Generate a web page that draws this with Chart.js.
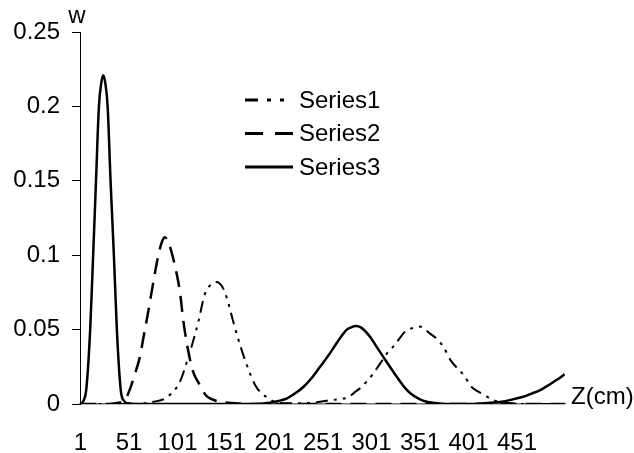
<!DOCTYPE html>
<html>
<head>
<meta charset="utf-8">
<script src="https://cdn.jsdelivr.net/npm/chart.js@4/dist/chart.umd.min.js"></script>
<style>
  html, body { margin: 0; padding: 0; background: #fff; }
  #wrap { width: 634px; height: 453px; position: relative; }
</style>
</head>
<body>
<div id="wrap"><canvas id="chart"></canvas></div>
<script>
// values (z in cm, w)
const seriesNames = ["Series1", "Series2", "Series3"];

const z1 = [1, 60, 76, 86, 93, 100, 105, 110, 116, 122.5, 129, 135, 141, 147, 152, 158.5, 165.5, 172.5, 181, 188, 195, 201, 215, 240, 255, 270, 277, 283, 289, 296, 303, 310, 317, 325, 335.5, 343, 351, 361, 368, 375, 383, 396, 404, 412, 420, 427, 433.5, 445, 460, 500];
const w1 = [0, 0, 0.0015, 0.003, 0.006, 0.011, 0.0173, 0.027, 0.0397, 0.0553, 0.0735, 0.08, 0.082, 0.079, 0.071, 0.0553, 0.0397, 0.0262, 0.0128, 0.007, 0.0038, 0.0015, 0.0005, 0.0008, 0.0022, 0.0035, 0.0045, 0.0075, 0.0105, 0.015, 0.0206, 0.0273, 0.034, 0.0397, 0.0486, 0.051, 0.052, 0.0475, 0.044, 0.0385, 0.029, 0.0195, 0.0116, 0.008, 0.0049, 0.0025, 0.0015, 0.0005, 0, 0];

const z2 = [1, 30, 40, 47, 52, 57, 62, 66, 70, 74, 78, 82, 85, 88, 92, 96.5, 100, 103.5, 107, 112, 117, 124, 130, 134.5, 145, 160, 180, 500];
const w2 = [0, 0, 0.0008, 0.003, 0.01, 0.02, 0.031, 0.045, 0.059, 0.074, 0.089, 0.102, 0.109, 0.112, 0.108, 0.098, 0.088, 0.0755, 0.056, 0.036, 0.022, 0.0128, 0.006, 0.0038, 0.0015, 0.0005, 0, 0];

const z3 = [1, 4, 7, 11, 14, 17, 20, 22.5, 24.5, 26.5, 29, 32, 35.5, 38.5, 42.5, 46, 50, 60, 100, 150, 180, 196, 205, 214, 222, 231, 240, 248, 257, 265, 275, 280, 285, 290, 299.5, 306, 313, 320, 327, 334, 341, 350, 358, 370, 390, 410, 423, 435, 446, 457.5, 466, 475, 482, 489, 495, 500];
const w3 = [0, 0.002, 0.01, 0.05, 0.099, 0.15, 0.2, 0.216, 0.221, 0.216, 0.2, 0.15, 0.099, 0.05, 0.0094, 0.002, 0.0005, 0, 0, 0, 0, 0.0008, 0.002, 0.0038, 0.007, 0.0116, 0.018, 0.025, 0.033, 0.0408, 0.0497, 0.0515, 0.0524, 0.0515, 0.0452, 0.0387, 0.0318, 0.025, 0.0183, 0.012, 0.0072, 0.0035, 0.0015, 0.0004, 0, 0.0002, 0.0008, 0.0015, 0.003, 0.0049, 0.007, 0.0094, 0.012, 0.015, 0.0175, 0.02];

const xTickValues = [1, 51, 101, 151, 201, 251, 301, 351, 401, 451];
const yTickValues = [0, 0.05, 0.1, 0.15, 0.2, 0.25];
const yTickLabels = ["0", "0.05", "0.1", "0.15", "0.2", "0.25"];

const FONT = "'Liberation Sans', Arial, sans-serif";
const FONT_SIZE = 24;
const dashes = [[12, 6, 3, 6, 3, 6], [16, 9], []];
const legendDashes = [[13, 9, 4, 9, 4, 9], [18, 12], []];
const widths = [2, 2.5, 2.5];

const toPoints = (zs, ws) => zs.map((z, i) => ({ x: z, y: ws[i] }));

const overlay = {
  id: "overlay",
  afterDraw(chart) {
    const { ctx, chartArea } = chart;
    ctx.save();
    ctx.fillStyle = "#000";
    ctx.font = FONT_SIZE + "px " + FONT;
    ctx.textBaseline = "middle";
    ctx.textAlign = "center";
    ctx.fillText("w", chartArea.left - 3, chartArea.top - 16);
    ctx.textAlign = "left";
    ctx.fillText("Z(cm)", chartArea.right + 6, chartArea.bottom - 7);

    // legend
    chart.data.datasets.forEach((ds, i) => {
      const y = 100 + i * 33.5;
      ctx.beginPath();
      ctx.setLineDash(legendDashes[i]);
      ctx.lineWidth = 3;
      ctx.strokeStyle = "#000";
      ctx.moveTo(245, y);
      ctx.lineTo(293, y);
      ctx.stroke();
      ctx.setLineDash([]);
      ctx.fillText(ds.label, 299, y + 1);
    });
    ctx.restore();
  }
};

new Chart(document.getElementById("chart"), {
  type: "line",
  data: {
    datasets: seriesNames.map((name, i) => ({
      label: name,
      data: toPoints([z1, z2, z3][i], [w1, w2, w3][i]),
      borderColor: "#000",
      backgroundColor: "#000",
      borderWidth: widths[i],
      borderDash: dashes[i],
      pointRadius: 0,
      fill: false,
      cubicInterpolationMode: "monotone"
    }))
  },
  options: {
    responsive: true,
    maintainAspectRatio: false,
    animation: false,
    layout: { padding: { top: 32, right: 69, left: 0, bottom: 0 } },
    plugins: {
      legend: { display: false },
      tooltip: { enabled: false }
    },
    scales: {
      x: {
        type: "linear",
        min: 0.5,
        max: 500.5,
        afterBuildTicks: (axis) => {
          axis.ticks = xTickValues.map((v) => ({ value: v }));
        },
        afterFit: (axis) => { axis.height = 49; },
        grid: { display: false, drawTicks: false },
        border: { display: true, color: "#777", width: 1.5 },
        ticks: {
          autoSkip: false,
          maxRotation: 0,
          padding: 25,
          color: "#000",
          font: { family: FONT, size: FONT_SIZE },
          callback: (value) => String(value)
        }
      },
      y: {
        min: 0,
        max: 0.25,
        afterBuildTicks: (axis) => {
          axis.ticks = yTickValues.map((v) => ({ value: v }));
        },
        afterFit: (axis) => { axis.width = 80; },
        grid: {
          drawOnChartArea: false,
          drawTicks: true,
          tickLength: 8,
          color: "#000"
        },
        border: { display: true, color: "#000", width: 1 },
        ticks: {
          padding: 12,
          color: "#000",
          font: { family: FONT, size: FONT_SIZE },
          callback: (value) => yTickLabels[yTickValues.indexOf(value)]
        }
      }
    }
  },
  plugins: [overlay]
});
</script>
</body>
</html>
